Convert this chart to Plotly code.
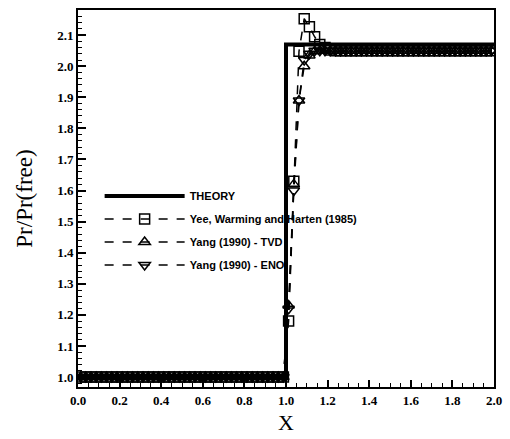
import plotly.graph_objects as go

# Cell-centre positions of the numerical solutions
x_cells = [
    0.0125, 0.0375, 0.0625, 0.0875, 0.1125, 0.1375, 0.1625, 0.1875, 0.2125, 0.2375,
    0.2625, 0.2875, 0.3125, 0.3375, 0.3625, 0.3875, 0.4125, 0.4375, 0.4625, 0.4875,
    0.5125, 0.5375, 0.5625, 0.5875, 0.6125, 0.6375, 0.6625, 0.6875, 0.7125, 0.7375,
    0.7625, 0.7875, 0.8125, 0.8375, 0.8625, 0.8875, 0.9125, 0.9375, 0.9625, 0.9875,
    1.0125, 1.0375, 1.0625, 1.0875, 1.1125, 1.1375, 1.1625, 1.1875, 1.2125, 1.2375,
    1.2625, 1.2875, 1.3125, 1.3375, 1.3625, 1.3875, 1.4125, 1.4375, 1.4625, 1.4875,
    1.5125, 1.5375, 1.5625, 1.5875, 1.6125, 1.6375, 1.6625, 1.6875, 1.7125, 1.7375,
    1.7625, 1.7875, 1.8125, 1.8375, 1.8625, 1.8875, 1.9125, 1.9375, 1.9625, 1.9875,
]

# Exact solution
theory_x = [0.0, 1.0, 1.0, 2.0]
theory_y = [1.0, 1.0, 2.07, 2.07]

# Yee, Warming and Harten (1985)
pr_yee = [
    1.0, 1.0, 1.0, 1.0, 1.0, 1.0, 1.0, 1.0, 1.0, 1.0,
    1.0, 1.0, 1.0, 1.0, 1.0, 1.0, 1.0, 1.0, 1.0, 1.0,
    1.0, 1.0, 1.0, 1.0, 1.0, 1.0, 1.0, 1.0, 1.0, 1.0,
    1.0, 1.0, 1.0, 1.0, 1.0, 1.0, 1.0, 1.0, 1.0, 1.0,
    1.18, 1.63, 2.048, 2.153, 2.127, 2.095, 2.07, 2.06, 2.052, 2.05,
    2.05, 2.05, 2.05, 2.05, 2.05, 2.05, 2.05, 2.05, 2.05, 2.05,
    2.05, 2.05, 2.05, 2.05, 2.05, 2.05, 2.05, 2.05, 2.05, 2.05,
    2.05, 2.05, 2.05, 2.05, 2.05, 2.05, 2.05, 2.05, 2.05, 2.05,
]

# Yang (1990) - TVD
pr_tvd = [
    1.0, 1.0, 1.0, 1.0, 1.0, 1.0, 1.0, 1.0, 1.0, 1.0,
    1.0, 1.0, 1.0, 1.0, 1.0, 1.0, 1.0, 1.0, 1.0, 1.0,
    1.0, 1.0, 1.0, 1.0, 1.0, 1.0, 1.0, 1.0, 1.0, 1.0,
    1.0, 1.0, 1.0, 1.0, 1.0, 1.0, 1.0, 1.0, 1.0, 1.0,
    1.23, 1.62, 1.89, 2.00, 2.035, 2.048, 2.05, 2.05, 2.05, 2.05,
    2.05, 2.05, 2.05, 2.05, 2.05, 2.05, 2.05, 2.05, 2.05, 2.05,
    2.05, 2.05, 2.05, 2.05, 2.05, 2.05, 2.05, 2.05, 2.05, 2.05,
    2.05, 2.05, 2.05, 2.05, 2.05, 2.05, 2.05, 2.05, 2.05, 2.05,
]

# Yang (1990) - ENO
pr_eno = [
    1.0, 1.0, 1.0, 1.0, 1.0, 1.0, 1.0, 1.0, 1.0, 1.0,
    1.0, 1.0, 1.0, 1.0, 1.0, 1.0, 1.0, 1.0, 1.0, 1.0,
    1.0, 1.0, 1.0, 1.0, 1.0, 1.0, 1.0, 1.0, 1.0, 1.0,
    1.0, 1.0, 1.0, 1.0, 1.0, 1.0, 1.0, 1.0, 1.0, 1.0,
    1.22, 1.60, 1.89, 2.02, 2.04, 2.05, 2.05, 2.05, 2.05, 2.05,
    2.05, 2.05, 2.05, 2.05, 2.05, 2.05, 2.05, 2.05, 2.05, 2.05,
    2.05, 2.05, 2.05, 2.05, 2.05, 2.05, 2.05, 2.05, 2.05, 2.05,
    2.05, 2.05, 2.05, 2.05, 2.05, 2.05, 2.05, 2.05, 2.05, 2.05,
]

x_ticks = [0.0, 0.2, 0.4, 0.6, 0.8, 1.0, 1.2, 1.4, 1.6, 1.8, 2.0]
y_ticks = [1.0, 1.1, 1.2, 1.3, 1.4, 1.5, 1.6, 1.7, 1.8, 1.9, 2.0, 2.1]

numerical = [
    ("Yee, Warming and Harten (1985)", pr_yee, "square-open"),
    ("Yang (1990) - TVD", pr_tvd, "triangle-up-open"),
    ("Yang (1990) - ENO", pr_eno, "triangle-down-open"),
]

fig = go.Figure()

for rank, (name, values, symbol) in enumerate(numerical, start=2):
    fig.add_trace(go.Scatter(
        x=x_cells, y=values, name=name, mode="lines+markers",
        line=dict(color="black", width=1.5, dash="dash"),
        marker=dict(symbol=symbol, size=10, color="black",
                    line=dict(color="black", width=1.5)),
        legendrank=rank, legendgroup=name,
    ))

fig.add_trace(go.Scatter(
    x=theory_x, y=theory_y, name="THEORY", mode="lines",
    line=dict(color="black", width=4),
    legendrank=1, legendgroup="theory",
))

serif = "Liberation Serif"
tick_font = dict(family=serif, size=13, color="black", weight="bold")

fig.update_layout(
    width=510, height=439,
    margin=dict(l=78, r=10, t=8, b=49),
    paper_bgcolor="white", plot_bgcolor="white",
    showlegend=True,
    legend=dict(
        x=0.052, y=0.545, xanchor="left", yanchor="top",
        bgcolor="rgba(0,0,0,0)", borderwidth=0,
        itemwidth=80, traceorder="grouped", tracegroupgap=4,
        font=dict(family="Liberation Sans", size=11, color="black", weight="bold"),
    ),
    xaxis=dict(
        range=[0, 2], tickvals=x_ticks, ticktext=[f"{v:.1f}" for v in x_ticks],
        ticks="inside", ticklen=7, tickwidth=1.5, tickcolor="black",
        minor=dict(dtick=0.05, tick0=0, ticks="inside", ticklen=4,
                   tickwidth=1, tickcolor="black"),
        showline=True, linecolor="black", linewidth=2, mirror=True,
        showgrid=False, zeroline=False, tickfont=tick_font,
        title=dict(text="X", font=dict(family=serif, size=22, color="black"),
                   standoff=8),
    ),
    yaxis=dict(
        range=[0.968, 2.181], tickvals=y_ticks, ticktext=[f"{v:.1f}" for v in y_ticks],
        ticks="inside", ticklen=8, tickwidth=1.5, tickcolor="black",
        minor=dict(dtick=0.02, tick0=1.0, ticks="inside", ticklen=4,
                   tickwidth=1, tickcolor="black"),
        showline=True, linecolor="black", linewidth=2, mirror=True,
        showgrid=False, zeroline=False, tickfont=tick_font,
        title=dict(text="Pr/Pr(free)", font=dict(family=serif, size=23, color="black"),
                   standoff=18),
    ),
)

fig.write_html("out.html")
